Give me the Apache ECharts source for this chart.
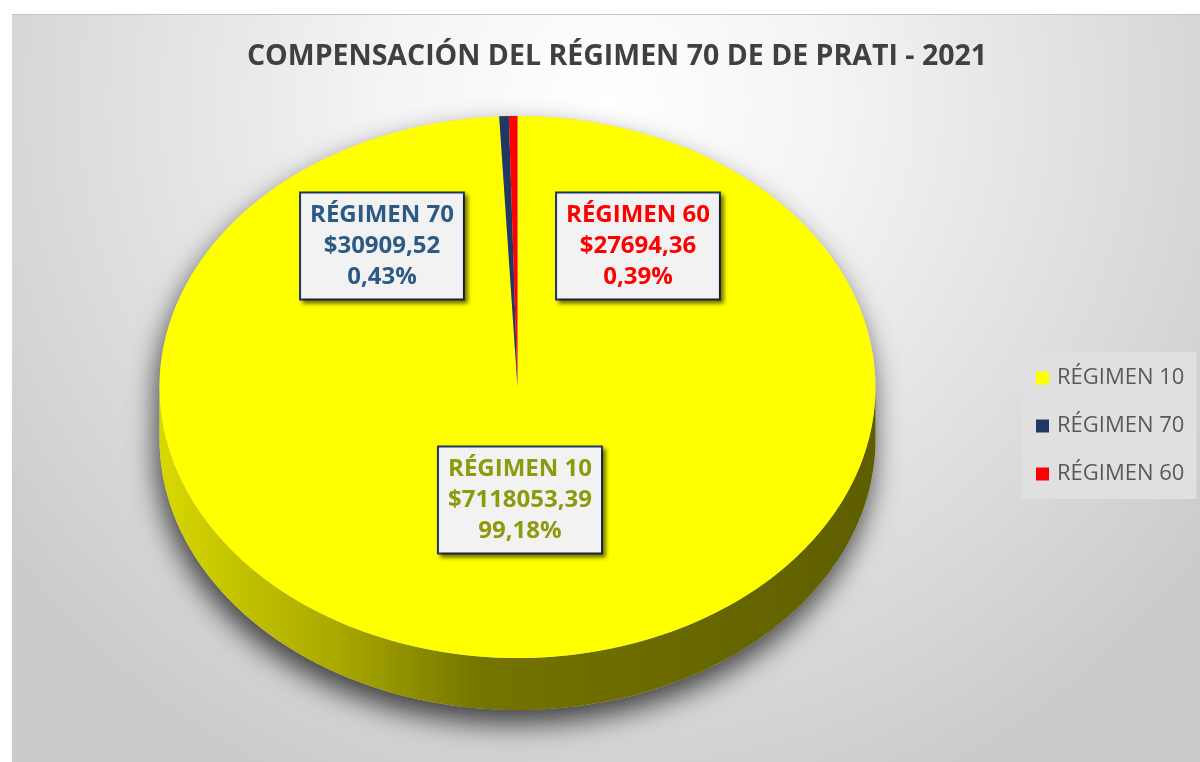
<!DOCTYPE html>
<html>
<head>
<meta charset="utf-8">
<title>Compensación del Régimen 70</title>
<script src="https://cdn.jsdelivr.net/npm/echarts@6/dist/echarts.min.js"></script>
<style>
  html, body { margin: 0; padding: 0; background: #fff; }
  #chart { width: 1200px; height: 762px; }
</style>
</head>
<body>
<div id="chart"></div>
<script>
// datos
const categories = ['RÉGIMEN 10', 'RÉGIMEN 70', 'RÉGIMEN 60'];
const amounts = [7118053.39, 30909.52, 27694.36];
const sliceColors = ['#ffff00', '#1f3864', '#ff0000'];
const labelColors = ['#8c9a0c', '#2c5a86', '#ff0000'];

// layout del pastel 3D (elipse + espesor)
const PIE = { cx: 517.5, cy: 387, rx: 358, ry: 271, depth: 52 };
// centros de las cajas de etiqueta (movidas a mano como en Excel)
const labelCenters = [[520, 500], [382, 246], [638, 246]];

const total = amounts.reduce((a, b) => a + b, 0);

function fmtMoney(v) {
  return '$' + v.toFixed(2).replace('.', ',');
}
function fmtPct(v) {
  return (v / total * 100).toFixed(2).replace('.', ',') + '%';
}

function ellipsePoints(from, to, dy, n) {
  const pts = [];
  for (let k = 0; k <= n; k++) {
    const t = from + (to - from) * k / n;
    pts.push([PIE.cx + PIE.rx * Math.cos(t), PIE.cy + dy + PIE.ry * Math.sin(t)]);
  }
  return pts;
}

function renderSlice(i) {
  return function (params, api) {
    const before = amounts.slice(0, i).reduce((a, b) => a + b, 0);
    const v = api.value(0);
    const a0 = -Math.PI / 2 + before / total * Math.PI * 2;
    const a1 = a0 + v / total * Math.PI * 2;
    const children = [];

    if (i === 0) {
      // sombra suave
      const silhouette = ellipsePoints(0, -Math.PI, 0, 90)
        .concat(ellipsePoints(Math.PI, 0, PIE.depth, 90));
      children.push({
        type: 'polygon',
        shape: { points: silhouette },
        style: {
          fill: '#d0d0d0',
          shadowBlur: 28,
          shadowOffsetX: -3,
          shadowOffsetY: 14,
          shadowColor: 'rgba(0,0,0,0.7)'
        }
      });
      // lateral del cilindro
      const side = ellipsePoints(0, Math.PI, 0, 120)
        .concat(ellipsePoints(Math.PI, 0, PIE.depth, 120));
      children.push({
        type: 'polygon',
        shape: { points: side },
        style: {
          fill: new echarts.graphic.LinearGradient(0, 0, 1, 0, [
            { offset: 0, color: '#d8d800' },
            { offset: 0.25, color: '#a8a800' },
            { offset: 0.45, color: '#747400' },
            { offset: 1, color: '#5e5e00' }
          ])
        }
      });
    }

    children.push({
      type: 'sector',
      x: PIE.cx,
      y: PIE.cy,
      scaleY: PIE.ry / PIE.rx,
      shape: { cx: 0, cy: 0, r0: 0, r: PIE.rx, startAngle: a0, endAngle: a1, clockwise: true },
      style: { fill: api.visual('color') }
    });

    children.push({
      type: 'text',
      x: labelCenters[i][0],
      y: labelCenters[i][1],
      style: {
        text: categories[i] + '\n' + fmtMoney(v) + '\n' + fmtPct(v),
        font: 'bold 24px "Open Sans"',
        fill: labelColors[i],
        align: 'center',
        verticalAlign: 'middle',
        lineHeight: 31,
        backgroundColor: '#f2f2f2',
        borderColor: '#203864',
        borderWidth: 2,
        padding: [6, 9],
        shadowBlur: 4,
        shadowOffsetX: 3,
        shadowOffsetY: 3,
        shadowColor: 'rgba(0,0,0,0.45)'
      }
    });

    return { type: 'group', children: children };
  };
}

const chart = echarts.init(document.getElementById('chart'));

const option = {
  animation: false,
  graphic: [
    {
      type: 'rect',
      z: -10,
      shape: { x: 12, y: 14, width: 1188, height: 748 },
      style: {
        fill: new echarts.graphic.RadialGradient(0.5, 0.12, 1.0, [
          { offset: 0, color: '#ffffff' },
          { offset: 0.3, color: '#f4f4f4' },
          { offset: 1, color: '#cbcbcb' }
        ])
      }
    },
    {
      type: 'line',
      z: -9,
      shape: { x1: 12, y1: 14.5, x2: 1200, y2: 14.5 },
      style: { stroke: '#c4c4c4', lineWidth: 1 }
    }
  ],
  title: {
    text: 'COMPENSACIÓN DEL RÉGIMEN 70 DE DE PRATI - 2021',
    left: 612,
    textAlign: 'center',
    top: 37,
    textStyle: {
      fontFamily: 'Open Sans',
      fontWeight: 'bold',
      fontSize: 28.5,
      color: '#404040'
    }
  },
  legend: {
    orient: 'vertical',
    left: 1022,
    top: 352,
    icon: 'rect',
    itemWidth: 13,
    itemHeight: 13,
    itemGap: 24,
    padding: [14, 12, 13, 14],
    backgroundColor: '#e0e0e0',
    textStyle: {
      fontFamily: 'Open Sans',
      fontSize: 22,
      color: '#595959',
      lineHeight: 24,
      padding: [0, 0, 0, 3]
    },
    data: categories
  },
  series: categories.map((name, i) => ({
    type: 'custom',
    name: name,
    coordinateSystem: 'none',
    itemStyle: { color: sliceColors[i] },
    renderItem: renderSlice(i),
    data: [amounts[i]]
  }))
};

chart.setOption(option);
window.addEventListener('resize', function () {
  chart.resize();
});
</script>
</body>
</html>
